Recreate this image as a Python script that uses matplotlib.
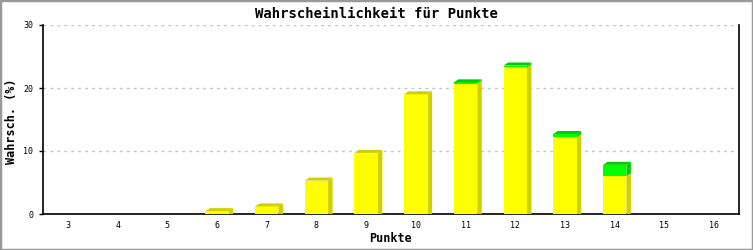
import matplotlib
matplotlib.use("Agg")
import matplotlib.pyplot as plt
from matplotlib.patches import Polygon, Rectangle

# data
punkte = [3, 4, 5, 6, 7, 8, 9, 10, 11, 12, 13, 14, 15, 16]
gelb = [0, 0, 0, 0.46, 1.2, 5.3, 9.7, 19.0, 20.7, 23.3, 12.2, 6.0, 0, 0]
gruen = [0, 0, 0, 0, 0, 0, 0, 0, 0.2, 0.27, 0.5, 1.8, 0, 0]
y_ticks = [0, 10, 20, 30]

W, H = 753, 250
fig = plt.figure(figsize=(W / 100, H / 100), dpi=100)
ax_l, ax_r, ax_b, ax_t = 43, 739, 214, 25
ax = fig.add_axes([ax_l / W, 1 - ax_b / H, (ax_r - ax_l) / W, (ax_b - ax_t) / H])

mono = "DejaVu Sans Mono"
x = list(range(len(punkte)))
ax.set_xlim(-0.5, len(punkte) - 0.5)
ax.set_ylim(0, 30)

# pixel -> data units for the 3d offset
px_x = (ax_r - ax_l) / len(punkte)
px_y = (ax_b - ax_t) / 30.0
dx = 4.5 / px_x
dy = 3 / px_y
bw = 0.47


def block(xc, y0, h, front, dark):
    x0, x1 = xc - bw / 2, xc + bw / 2
    top = y0 + h
    ax.add_patch(Polygon([(x1, y0), (x1, top), (x1 + dx, top + dy), (x1 + dx, y0 + (dy if y0 > 0 else 0))],
                         closed=True, facecolor=dark, edgecolor="none", zorder=3))
    ax.add_patch(Rectangle((x0, y0), bw, h, facecolor=front, edgecolor="none", zorder=4))


ax.bar(x, gelb, width=bw, color="#ffff00", zorder=4)
ax.bar(x, gruen, width=bw, bottom=gelb, color="#00ff00", zorder=4)

for i in x:
    tot = gelb[i] + gruen[i]
    if tot <= 0:
        continue
    block(i, 0, gelb[i], "#ffff00", "#d0d000")
    if gruen[i] > 0:
        block(i, gelb[i], gruen[i], "#00ff00", "#00cc00")
    top_col = "#00cc00" if gruen[i] > 0 else "#d0d000"
    x0, x1 = i - bw / 2, i + bw / 2
    ax.add_patch(Polygon([(x0, tot), (x1, tot), (x1 + dx, tot + dy), (x0 + dx, tot + dy)],
                         closed=True, facecolor=top_col, edgecolor="none", zorder=5))

ax.set_yticks(y_ticks)
ax.set_yticklabels([str(v) for v in y_ticks], fontfamily=mono, fontsize=6)
ax.set_xticks(x)
ax.set_xticklabels([str(p) for p in punkte], fontfamily=mono, fontsize=6)
ax.tick_params(axis="x", length=0, pad=5)
ax.tick_params(axis="y", length=3, width=1, pad=4, direction="out")

ax.yaxis.grid(True, color="#c4c4c4", linestyle=(0, (2, 3)), linewidth=1)
ax.set_axisbelow(True)
ax.spines["top"].set_visible(False)
for s in ["left", "bottom", "right"]:
    ax.spines[s].set_color("black")
    ax.spines[s].set_linewidth(1.2)

fig.text(376 / W, 1 - 14 / H, "Wahrscheinlichkeit für Punkte", ha="center", va="center",
         fontfamily=mono, fontweight="bold", fontsize=10)
fig.text(390 / W, 1 - 239 / H, "Punkte", ha="center", va="center",
         fontfamily=mono, fontweight="bold", fontsize=8.5)
fig.text(12 / W, 1 - 121 / H, "Wahrsch. (%)", ha="center", va="center", rotation=90,
         fontfamily=mono, fontweight="bold", fontsize=8.5)

fig.patches.append(Rectangle((0, 0), 1, 1, transform=fig.transFigure, fill=False,
                             edgecolor="#999999", linewidth=2.5))

fig.savefig("out.png", dpi=100)
